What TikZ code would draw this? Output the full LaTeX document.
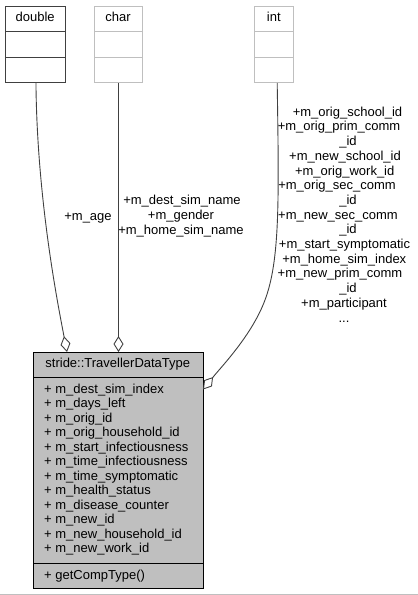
\documentclass[tikz,border=0pt]{standalone}
\usepackage{fontspec}
\setmainfont{Liberation Sans}
\usetikzlibrary{arrows.meta}
\definecolor{edgegray}{HTML}{404040}
\definecolor{lightborder}{HTML}{BFBFBF}
\definecolor{boxfill}{HTML}{BFBFBF}
\tikzset{
  lbl/.style={font=\fontsize{13}{14.6}\selectfont, inner sep=0pt, anchor=base},
  lblw/.style={font=\fontsize{13}{14.6}\selectfont, inner sep=0pt, anchor=base west},
  typebox/.style={draw=edgegray, line width=1pt, minimum width=60.3pt, minimum height=76.3pt, anchor=north west, inner sep=0pt},
  greybox/.style={draw=lightborder, line width=1pt, anchor=north west, inner sep=0pt},
  member/.style={draw=edgegray, line width=0.9pt, -{Diamond[open,length=16pt,width=10pt]}},
}
\begin{document}
\begin{tikzpicture}[x=1pt,y=-1pt]
\useasboundingbox (0,0) rectangle (418,595);
% bottom border line
\draw[lightborder, line width=1pt] (0,594.5) -- (418,594.5);

% type boxes
\node[typebox, minimum width=60.3pt, minimum height=76.3pt] (dbl) at (5,5.7) {};
\draw[edgegray, line width=1pt] (5,31.3) -- (65.3,31.3) (5,57) -- (65.3,57);
\node[lbl] (dbllbl) at (35.2,21) {double};

\node[greybox, minimum width=47.4pt, minimum height=76.3pt] (chr) at (94.3,5.7) {};
\draw[lightborder, line width=1pt] (94.3,31.3) -- (141.7,31.3) (94.3,57) -- (141.7,57);
\node[lbl] (chrlbl) at (118,21) {char};

\node[greybox, minimum width=39pt, minimum height=76.3pt] (int) at (254.3,5.7) {};
\draw[lightborder, line width=1pt] (254.3,31.3) -- (293.3,31.3) (254.3,57) -- (293.3,57);
\node[lbl] (intlbl) at (273.8,21) {int};

% main class box
\node[draw=black, fill=boxfill, line width=1pt, anchor=north west, minimum width=169.7pt, minimum height=236pt, inner sep=0pt] (main) at (33,352) {};
\draw[black, line width=1pt] (33,377) -- (202.7,377) (33,563) -- (202.7,563);
\node[lbl] (title) at (117.8,367.5) {stride::TravellerDataType};
\foreach \t [count=\i] in {
  + m\_dest\_sim\_index,
  + m\_days\_left,
  + m\_orig\_id,
  + m\_orig\_household\_id,
  + m\_start\_infectiousness,
  + m\_time\_infectiousness,
  + m\_time\_symptomatic,
  + m\_health\_status,
  + m\_disease\_counter,
  + m\_new\_id,
  + m\_new\_household\_id,
  + m\_new\_work\_id}{
  \node[lblw] (attr\i) at (44,{393.3+14.5*(\i-1)}) {\t};
}
\node[lblw] (op1) at (44,579.3) {+ getCompType()};

% connectors
\coordinate (dblend) at (67,352);
\coordinate (intend) at (203,389.5);
\coordinate (intmid) at (265,300);
\draw[member] ([xshift=0.3pt]dbl.south) .. controls (37,200) and (58,305) .. (dblend);
\draw[member] (chr.south) -- (chr.south |- main.north);
\draw[member] ([xshift=2.9pt]int.south) .. controls (279,200) and (280,260) .. (intmid)
   .. controls (252,335) and (222,366) .. (intend);

% connector labels
\node[lbl] (agelbl) at (88,220.3) {+m\_age};
\node[lbl] (c1) at (182,204.3) {+m\_dest\_sim\_name};
\node[lbl] (c2) at (181,219.3) {+m\_gender};
\node[lbl] (c3) at (181,234) {+m\_home\_sim\_name};

\node[lbl] (i1) at (347.5,116.2) {+m\_orig\_school\_id};
\node[lbl] (i2) at (339,130.9) {+m\_orig\_prim\_comm};
\node[lbl] (i3) at (348,145.6) {\_id};
\node[lbl] (i4) at (345,160.3) {+m\_new\_school\_id};
\node[lbl] (i5) at (344.7,175) {+m\_orig\_work\_id};
\node[lbl] (i6) at (337,189.7) {+m\_orig\_sec\_comm};
\node[lbl] (i7) at (348,204.4) {\_id};
\node[lbl] (i8) at (338,219.1) {+m\_new\_sec\_comm};
\node[lbl] (i9) at (348,233.8) {\_id};
\node[lbl] (i10) at (344.5,248.5) {+m\_start\_symptomatic};
\node[lbl] (i11) at (344.3,263.2) {+m\_home\_sim\_index};
\node[lbl] (i12) at (340,277.9) {+m\_new\_prim\_comm};
\node[lbl] (i13) at (348,292.6) {\_id};
\node[lbl] (i14) at (344,307.3) {+m\_participant};
\node[lbl] (i15) at (344,322) {...};
\end{tikzpicture}
\end{document}
